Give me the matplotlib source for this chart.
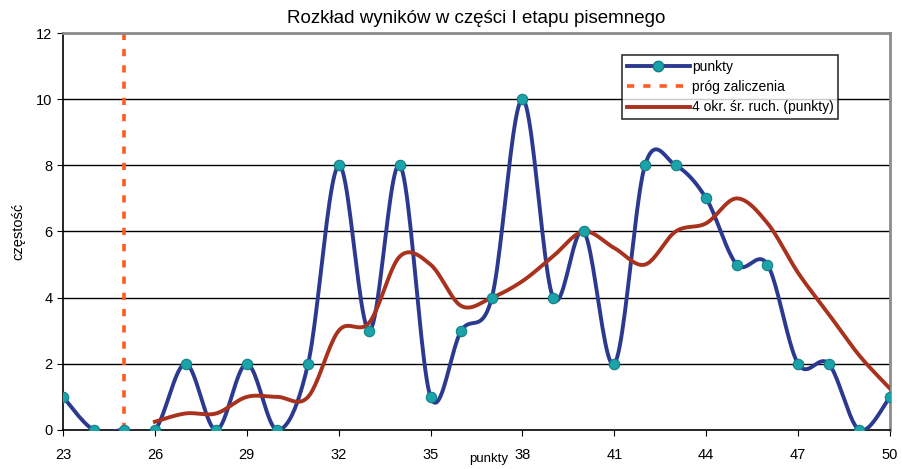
import numpy as np
import matplotlib.pyplot as plt

punkty = [23, 24, 25, 26, 27, 28, 29, 30, 31, 32, 33, 34, 35, 36, 37, 38,
          39, 40, 41, 42, 43, 44, 45, 46, 47, 48, 49, 50]
czestosc = [1, 0, 0, 0, 2, 0, 2, 0, 2, 8, 3, 8, 1, 3, 4, 10,
            4, 6, 2, 8, 8, 7, 5, 5, 2, 2, 0, 1]
# 4-okresowa srednia ruchoma (od 26 pkt)
sr_x = punkty[3:]
sr_y = [0.25, 0.5, 0.5, 1, 1, 1, 3, 3.25, 5.25, 5, 3.75, 4, 4.5,
        5.25, 6, 5.5, 5, 6, 6.25, 7, 6.25, 4.75, 3.5, 2.25, 1.25]
prog = 25
x_ticks = [23, 26, 29, 32, 35, 38, 41, 44, 47, 50]


def smooth(x, y, n=24):
    # wygladzanie jak w Excelu (krzywe Beziera)
    x = np.asarray(x, float)
    y = np.asarray(y, float)
    px = np.concatenate([[x[0]], x, [x[-1]]])
    py = np.concatenate([[y[0]], y, [y[-1]]])
    xs, ys = [], []
    t = np.linspace(0, 1, n)
    for i in range(len(x) - 1):
        p0 = np.array([px[i + 1], py[i + 1]])
        p3 = np.array([px[i + 2], py[i + 2]])
        c1 = p0 + (np.array([px[i + 2], py[i + 2]]) - np.array([px[i], py[i]])) / 6
        c2 = p3 - (np.array([px[i + 3], py[i + 3]]) - np.array([px[i + 1], py[i + 1]])) / 6
        b = ((1 - t) ** 3)[:, None] * p0 + (3 * (1 - t) ** 2 * t)[:, None] * c1 \
            + (3 * (1 - t) * t ** 2)[:, None] * c2 + (t ** 3)[:, None] * p3
        xs.extend(b[:, 0])
        ys.extend(b[:, 1])
    return np.array(xs), np.array(ys)


plt.rcParams['font.family'] = ['Liberation Sans', 'DejaVu Sans']

fig = plt.figure(figsize=(9.03, 4.69), dpi=100)
ax = fig.add_axes([0.0698, 0.0832, 0.9158, 0.8464])

for yv in range(2, 13, 2):
    ax.axhline(yv, color='black', lw=1.0, zorder=1)

blue = '#2b3990'
sx, sy = smooth(punkty, czestosc)
ax.plot(sx, sy, color=blue, lw=2.8, zorder=3)
ax.plot(punkty, czestosc, ls='none', marker='o', ms=7.5, mfc='#1aa3a8',
        mec='#137f85', mew=0.8, zorder=4)
ax.plot([], [], color=blue, lw=2.8, marker='o', ms=7.5, mfc='#1aa3a8',
        mec='#137f85', label='punkty')

ax.plot([prog, prog], [0, 12], color='#ff5a1f', lw=2.6, ls=(0, (2, 2.5)),
        zorder=2, label='próg zaliczenia')

mx, my = smooth(sr_x, sr_y)
ax.plot(mx, my, color='#a8321e', lw=2.8, zorder=3,
        label='4 okr. śr. ruch. (punkty)')

ax.set_xlim(23, 50)
ax.set_ylim(0, 12)
ax.set_xticks(x_ticks)
ax.set_yticks(range(0, 13, 2))
ax.tick_params(labelsize=10.5, length=4, direction='out')
ax.tick_params(axis='x', pad=9)

for s in ['top', 'right']:
    ax.spines[s].set_color('#8c8c8c')
    ax.spines[s].set_linewidth(2)
ax.spines['left'].set_linewidth(1.2)
ax.spines['bottom'].set_linewidth(1.2)

ax.set_title('Rozkład wyników w części I etapu pisemnego', fontsize=13.5, pad=7)
ax.set_ylabel('częstość', fontsize=10.5, labelpad=8)
ax.set_xlabel('punkty', fontsize=9.5)
ax.xaxis.set_label_coords(0.515, -0.058)

leg = ax.legend(loc='upper right', bbox_to_anchor=(0.946, 0.962), fontsize=10,
                frameon=True, fancybox=False, edgecolor='black',
                borderpad=0.35, labelspacing=0.45, handlelength=4.6,
                handletextpad=0.1)
leg.get_frame().set_linewidth(1.2)

fig.savefig('out.png', dpi=100)
